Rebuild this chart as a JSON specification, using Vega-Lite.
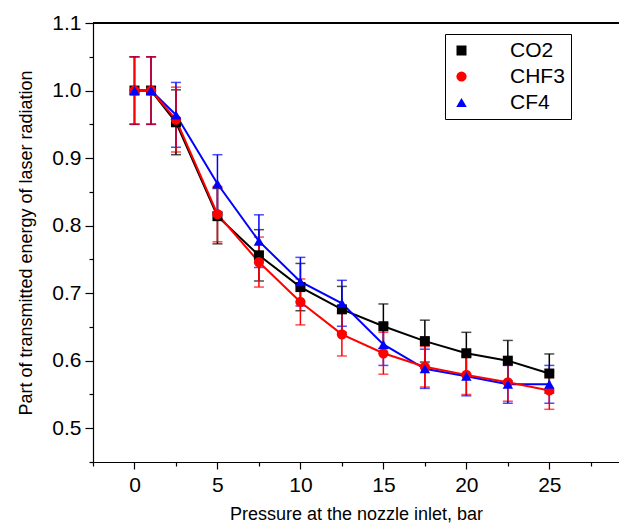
{
  "$schema": "https://vega.github.io/schema/vega-lite/v6.json",
  "width": 526,
  "height": 439,
  "autosize": {"type": "none"},
  "padding": {"left": 93, "top": 23, "right": 0, "bottom": 64},
  "config": {
    "view": {"stroke": null},
    "font": "Liberation Sans",
    "legend": {"symbolOpacity": 1},
    "axis": {
      "grid": false,
      "domainColor": "#000000",
      "domainWidth": 1.2,
      "tickColor": "#000000",
      "tickWidth": 1.2,
      "labelColor": "#000000",
      "titleColor": "#000000",
      "labelFont": "Liberation Sans",
      "titleFont": "Liberation Sans",
      "labelFontSize": 21,
      "titleFontSize": 18,
      "titleFontWeight": "normal"
    }
  },
  "data": {
    "values": [
      {"gas": "CO2", "p": 0, "v": 1.0, "lo": 0.95, "hi": 1.05},
      {"gas": "CO2", "p": 1, "v": 1.0, "lo": 0.95, "hi": 1.05},
      {"gas": "CO2", "p": 2.5, "v": 0.953, "lo": 0.905, "hi": 1.001},
      {"gas": "CO2", "p": 5, "v": 0.814, "lo": 0.773, "hi": 0.855},
      {"gas": "CO2", "p": 7.5, "v": 0.756, "lo": 0.718, "hi": 0.794},
      {"gas": "CO2", "p": 10, "v": 0.709, "lo": 0.674, "hi": 0.744},
      {"gas": "CO2", "p": 12.5, "v": 0.676, "lo": 0.642, "hi": 0.71},
      {"gas": "CO2", "p": 15, "v": 0.651, "lo": 0.618, "hi": 0.684},
      {"gas": "CO2", "p": 17.5, "v": 0.629, "lo": 0.598, "hi": 0.66},
      {"gas": "CO2", "p": 20, "v": 0.611, "lo": 0.58, "hi": 0.642},
      {"gas": "CO2", "p": 22.5, "v": 0.6, "lo": 0.57, "hi": 0.63},
      {"gas": "CO2", "p": 25, "v": 0.581, "lo": 0.552, "hi": 0.61},
      {"gas": "CF4", "p": 0, "v": 1.0, "lo": 0.95, "hi": 1.05},
      {"gas": "CF4", "p": 1, "v": 1.0, "lo": 0.95, "hi": 1.05},
      {"gas": "CF4", "p": 2.5, "v": 0.964, "lo": 0.916, "hi": 1.012},
      {"gas": "CF4", "p": 5, "v": 0.862, "lo": 0.819, "hi": 0.905},
      {"gas": "CF4", "p": 7.5, "v": 0.777, "lo": 0.738, "hi": 0.816},
      {"gas": "CF4", "p": 10, "v": 0.717, "lo": 0.681, "hi": 0.753},
      {"gas": "CF4", "p": 12.5, "v": 0.685, "lo": 0.651, "hi": 0.719},
      {"gas": "CF4", "p": 15, "v": 0.624, "lo": 0.593, "hi": 0.655},
      {"gas": "CF4", "p": 17.5, "v": 0.588, "lo": 0.559, "hi": 0.617},
      {"gas": "CF4", "p": 20, "v": 0.577, "lo": 0.548, "hi": 0.606},
      {"gas": "CF4", "p": 22.5, "v": 0.565, "lo": 0.537, "hi": 0.593},
      {"gas": "CF4", "p": 25, "v": 0.565, "lo": 0.537, "hi": 0.593},
      {"gas": "CHF3", "p": 0, "v": 1.0, "lo": 0.95, "hi": 1.05},
      {"gas": "CHF3", "p": 1, "v": 1.0, "lo": 0.95, "hi": 1.05},
      {"gas": "CHF3", "p": 2.5, "v": 0.957, "lo": 0.909, "hi": 1.005},
      {"gas": "CHF3", "p": 5, "v": 0.817, "lo": 0.776, "hi": 0.858},
      {"gas": "CHF3", "p": 7.5, "v": 0.746, "lo": 0.709, "hi": 0.783},
      {"gas": "CHF3", "p": 10, "v": 0.687, "lo": 0.653, "hi": 0.721},
      {"gas": "CHF3", "p": 12.5, "v": 0.639, "lo": 0.607, "hi": 0.671},
      {"gas": "CHF3", "p": 15, "v": 0.611, "lo": 0.58, "hi": 0.642},
      {"gas": "CHF3", "p": 17.5, "v": 0.591, "lo": 0.561, "hi": 0.621},
      {"gas": "CHF3", "p": 20, "v": 0.579, "lo": 0.55, "hi": 0.608},
      {"gas": "CHF3", "p": 22.5, "v": 0.568, "lo": 0.54, "hi": 0.596},
      {"gas": "CHF3", "p": 25, "v": 0.556, "lo": 0.528, "hi": 0.584}
    ]
  },
  "layer": [
    {
      "mark": {"type": "rule", "color": "#000000", "strokeWidth": 1.2},
      "encoding": {
        "y": {"datum": 1.1, "type": "quantitative"}
      }
    },
    {
      "mark": {"type": "errorbar", "ticks": {"size": 10}, "thickness": 1.5},
      "encoding": {
        "x": {
          "field": "p", "type": "quantitative",
          "title": "Pressure at the nozzle inlet, bar",
          "scale": {"domain": [-2.5, 29.2], "nice": false, "zero": false},
          "axis": {
            "values": [-2.5, 0, 2.5, 5, 7.5, 10, 12.5, 15, 17.5, 20, 22.5, 25, 27.5],
            "tickCount": 30,
            "labelExpr": "datum.value % 5 === 0 ? datum.label : ''",
            "tickSize": {"condition": {"test": "datum.value % 5 === 0", "value": 7}, "value": 4},
            "labelPadding": 5,
            "titlePadding": 10,
            "labelFlush": false,
            "labelOverlap": false
          }
        },
        "y": {
          "field": "lo", "type": "quantitative",
          "title": "Part of transmitted energy of laser radiation",
          "scale": {"domain": [0.45, 1.1], "nice": false, "zero": false},
          "axis": {
            "values": [0.45, 0.5, 0.55, 0.6, 0.65, 0.7, 0.75, 0.8, 0.85, 0.9, 0.95, 1.0, 1.05, 1.1],
            "tickCount": 30,
            "labelExpr": "round(datum.value * 100) % 10 === 0 ? format(datum.value, '.1f') : ''",
            "tickSize": {"condition": {"test": "round(datum.value * 100) % 10 === 0", "value": 8}, "value": 4},
            "labelPadding": 4,
            "titlePadding": 16,
            "labelFlush": false,
            "labelOverlap": false
          }
        },
        "y2": {"field": "hi"},
        "color": {
          "field": "gas", "type": "nominal",
          "scale": {"domain": ["CO2", "CHF3", "CF4"], "range": ["#000000", "#ff0000", "#0000ff"]}
        }
      }
    },
    {
      "mark": {"type": "line", "strokeWidth": 2},
      "encoding": {
        "x": {"field": "p", "type": "quantitative", "title": "Pressure at the nozzle inlet, bar"},
        "y": {"field": "v", "type": "quantitative", "title": "Part of transmitted energy of laser radiation"},
        "color": {"field": "gas", "type": "nominal"}
      }
    },
    {
      "mark": {"type": "point", "filled": true, "opacity": 1, "strokeWidth": 0},
      "encoding": {
        "x": {"field": "p", "type": "quantitative", "title": "Pressure at the nozzle inlet, bar"},
        "y": {"field": "v", "type": "quantitative", "title": "Part of transmitted energy of laser radiation"},
        "order": {"field": "gas", "sort": "descending"},
        "size": {
          "field": "gas", "type": "nominal",
          "scale": {"domain": ["CO2", "CHF3", "CF4"], "range": [100, 110, 145]},
          "legend": null
        },
        "color": {
          "field": "gas", "type": "nominal",
          "legend": {
            "title": null,
            "orient": "none",
            "legendX": 352,
            "legendY": 11,
            "strokeColor": "#000000",
            "fillColor": "#ffffff",
            "padding": 6,
            "symbolSize": 120,
            "symbolOpacity": 1,
            "symbolStrokeWidth": 0,
            "labelOffset": 38,
            "labelFontSize": 21,
            "labelColor": "#000000",
            "labelFont": "Liberation Sans",
            "rowPadding": 4
          }
        },
        "shape": {
          "field": "gas", "type": "nominal",
          "scale": {"domain": ["CO2", "CHF3", "CF4"], "range": ["square", "circle", "triangle-up"]},
          "legend": null
        }
      }
    }
  ]
}
